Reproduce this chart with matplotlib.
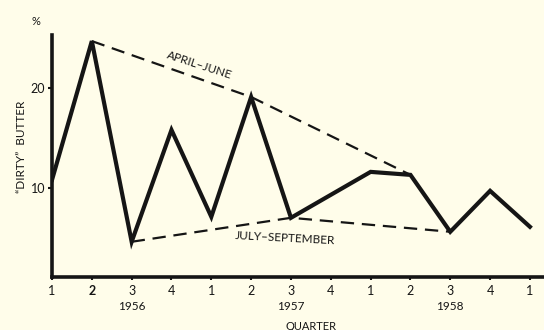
import numpy as np
import matplotlib
matplotlib.use("Agg")
import matplotlib.pyplot as plt

# quarterly share of "dirty" butter, Q1 1956 .. Q1 1959
quarter_labels = ["1", "2", "3", "4", "1", "2", "3", "4", "1", "2", "3", "4", "1"]
dirty_pct = [10.8, 24.7, 4.6, 15.8, 7.1, 19.1, 7.0, 9.3, 11.6, 11.3, 5.6, 9.7, 6.1]
years = ["1956", "1957", "1958"]
year_quarter = [2, 6, 10]          # year label sits under the 3rd quarter
april_june_idx = [1, 5, 9]
july_sept_idx = [2, 6, 10]

bg = "#fffdea"
ink = "#151515"
plt.rcParams["font.family"] = ["Lato", "DejaVu Sans"]

fig = plt.figure(figsize=(5.44, 3.30), dpi=100, facecolor=bg)
ax = fig.add_axes([0.0956, 0.1606, 0.91, 0.733])
ax.set_facecolor(bg)

x = np.arange(len(dirty_pct))
y = np.array(dirty_pct)

ax.plot(x, y, color=ink, lw=3.0, solid_joinstyle="miter", zorder=3)
ax.plot(x[april_june_idx], y[april_june_idx], color=ink, lw=1.6,
        dashes=(6, 3.5), zorder=2)
ax.plot(x[july_sept_idx], y[july_sept_idx], color=ink, lw=1.6,
        dashes=(6, 3.5), zorder=2)

ax.set_xlim(0, 12.43)
ax.set_ylim(1.07, 25.3)

for s in ["top", "right"]:
    ax.spines[s].set_visible(False)
ax.spines["left"].set_linewidth(2.6)
ax.spines["bottom"].set_linewidth(2.6)
ax.spines["left"].set_color(ink)
ax.spines["bottom"].set_color(ink)

ax.set_xticks(x)
ax.set_xticklabels(quarter_labels)
ax.set_yticks([10, 20])
ax.tick_params(axis="x", length=2, width=1.5, pad=4, labelsize=9, colors=ink)
ax.tick_params(axis="y", length=3, width=1.5, pad=2, labelsize=9, colors=ink)
ax.get_xticklabels()[1].set_fontweight("bold")

for yr, q in zip(years, year_quarter):
    ax.text(q, -0.12, yr, transform=ax.get_xaxis_transform(),
            ha="center", va="center", fontsize=8.5, color=ink)

ax.text(3.69, 22.3, "APRIL\u2013JUNE", rotation=-18, ha="center", va="center",
        fontsize=8.5, color=ink)
ax.text(5.86, 5.0, "JULY\u2013SEPTEMBER", rotation=-3, ha="center", va="center",
        fontsize=8.5, color=ink)

fig.text(0.039, 0.555, "\u201cDIRTY\u201d  BUTTER", rotation=90, ha="center",
         va="center", fontsize=8.5, color=ink)
fig.text(0.066, 0.935, "%", ha="center", va="center", fontsize=8, color=ink)
fig.text(0.572, 0.012, "QUARTER", ha="center", va="center", fontsize=8, color=ink)

fig.savefig("out.png", dpi=100, facecolor=bg)
